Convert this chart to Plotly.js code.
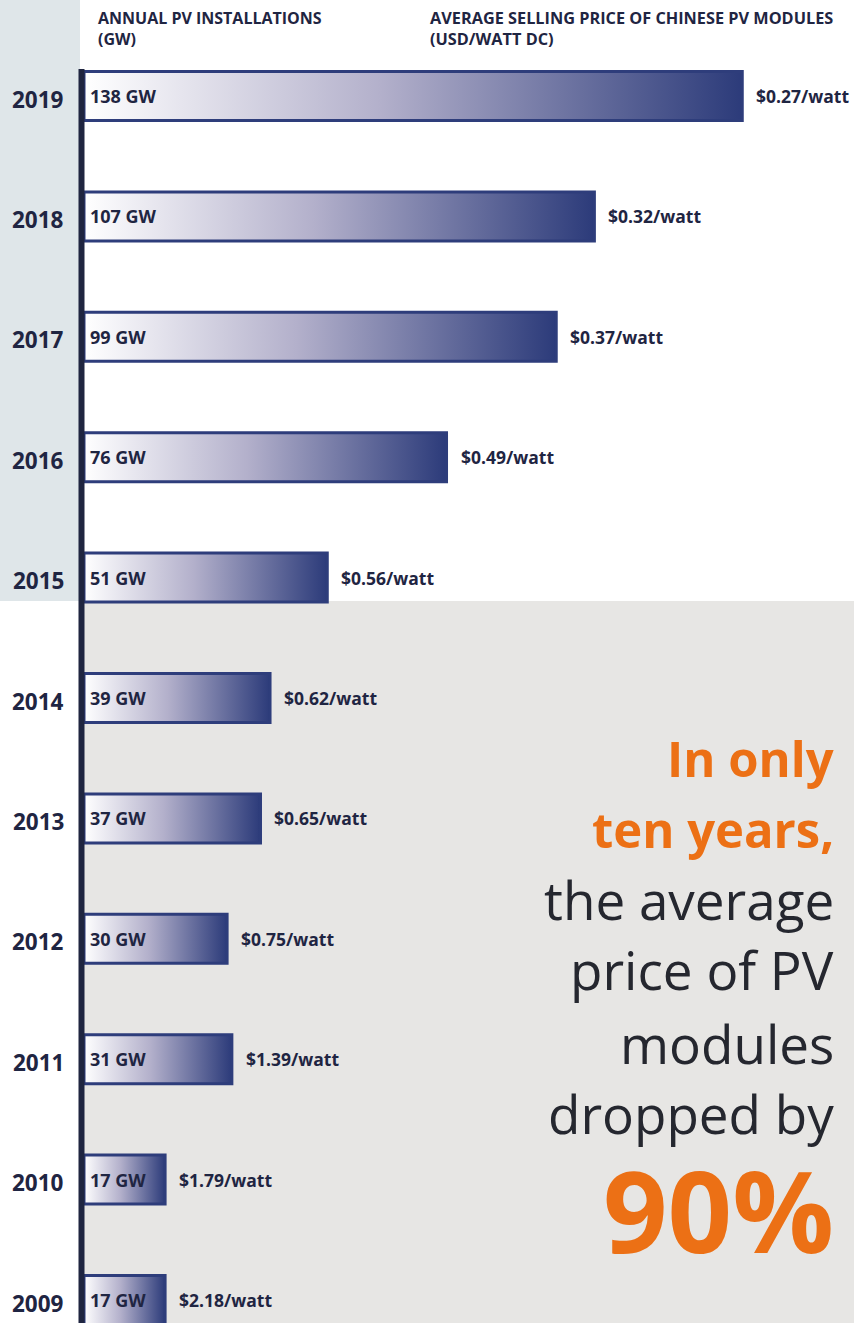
<!DOCTYPE html>
<html><head><meta charset="utf-8">
<script src="https://cdn.plot.ly/plotly-3.0.1.min.js"></script>
<style>html,body{margin:0;padding:0;background:#fff;}#chart{width:854px;height:1323px;}</style>
</head><body><div id="chart"></div>
<script>
const years = [2019, 2018, 2017, 2016, 2015, 2014, 2013, 2012, 2011, 2010, 2009];
const installGW = [138, 107, 99, 76, 51, 39, 37, 30, 31, 17, 17];
const installLabels = ["138 GW","107 GW","99 GW","76 GW","51 GW","39 GW","37 GW","30 GW","31 GW","17 GW","17 GW"];
const priceLabels = ["$0.27/watt","$0.32/watt","$0.37/watt","$0.49/watt","$0.56/watt","$0.62/watt","$0.65/watt","$0.75/watt","$1.39/watt","$1.79/watt","$2.18/watt"];
const headerLeft = "ANNUAL PV INSTALLATIONS<br>(GW)";
const headerRight = "AVERAGE SELLING PRICE OF CHINESE PV MODULES<br>(USD/WATT DC)";
const calloutOrange = ["In only", "ten years,"];
const calloutDark = ["the average", "price of PV", "modules", "dropped by"];
const calloutBig = "90%";

const W = 854, H = 1323;
const NAVY = "#1f2542", BAR = "#2e3d7b", ORANGE = "#ec7015", DARK = "#25272f";
const FONT = "Open Sans, Noto Sans, sans-serif";
const pxPerGW = 4.77, zeroPx = 84;
const xRange = [-zeroPx / pxPerGW, (W - zeroPx) / pxPerGW];
const rowPx = 120.4, firstRowPx = 96;
const yRange = [years[0] - (H - firstRowPx) / rowPx, years[0] + firstRowPx / rowPx];
const half = 0.2035;

const traces = years.map((yr, i) => ({
  type: "scatter", mode: "lines",
  x: [0, installGW[i], installGW[i], 0, 0],
  y: [yr - half, yr - half, yr + half, yr + half, yr - half],
  fill: "toself",
  fillgradient: {type: "horizontal", colorscale: [[0, "#ffffff"], [0.45, "#b3b0cb"], [1, "#2c3b7a"]]},
  line: {color: BAR, width: 3},
  hoverinfo: "skip", showlegend: false
}));

const ann = [];
const py = p => 1 - p / H;
ann.push({xref:"paper", yref:"paper", x: 96/W, y: py(5), xanchor:"left", yanchor:"top", align:"left",
  text: headerLeft, showarrow:false, font:{family:FONT, size:16, color:NAVY, weight:700}});
ann.push({xref:"paper", yref:"paper", x: 428/W, y: py(5), xanchor:"left", yanchor:"top", align:"left",
  text: headerRight, showarrow:false, font:{family:FONT, size:16.3, color:NAVY, weight:700}});
years.forEach((yr, i) => {
  ann.push({xref:"paper", yref:"y", x: 38/W, y: yr, yshift: -3, xanchor:"center", yanchor:"middle",
    text: String(yr), showarrow:false, font:{family:FONT, size:22.5, color:NAVY, weight:700}});
  ann.push({xref:"x", yref:"y", x: 0, y: yr, xshift: 4, xanchor:"left", yanchor:"middle",
    text: installLabels[i], showarrow:false, font:{family:FONT, size:18, color:NAVY, weight:700}});
  ann.push({xref:"x", yref:"y", x: installGW[i], y: yr, xshift: 12, xanchor:"left", yanchor:"middle",
    text: priceLabels[i], showarrow:false, font:{family:FONT, size:17.5, color:NAVY, weight:700}});
});
const orangeY = [758, 829];
calloutOrange.forEach((t, i) => ann.push({xref:"paper", yref:"paper", x: 836/W, y: py(orangeY[i]),
  xanchor:"right", yanchor:"middle", text: t, showarrow:false,
  font:{family:FONT, size:49, color:ORANGE, weight:700}}));
const darkY = [899, 969, 1043, 1113];
calloutDark.forEach((t, i) => ann.push({xref:"paper", yref:"paper", x: 836/W, y: py(darkY[i]),
  xanchor:"right", yanchor:"middle", text: t, showarrow:false,
  font:{family:FONT, size:53, color:DARK, weight:400}}));
ann.push({xref:"paper", yref:"paper", x: 836/W, y: py(1209), xanchor:"right", yanchor:"middle",
  height: 112, valign: "middle",
  text: calloutBig, showarrow:false, font:{family:FONT, size:113, color:ORANGE, weight:700}});

const shapes = [
  {type:"rect", xref:"paper", yref:"paper", x0:0, x1:80/W, y0:py(601), y1:1, fillcolor:"#dfe6e9", line:{width:0}, layer:"below"},
  {type:"rect", xref:"paper", yref:"paper", x0:80/W, x1:1, y0:0, y1:py(601), fillcolor:"#e7e6e4", line:{width:0}, layer:"below"},
  {type:"line", xref:"paper", yref:"paper", x0:81.5/W, x1:81.5/W, y0:0, y1:py(69), line:{color:"#1f2540", width:6}, layer:"above"}
];

const layout = {
  width: W, height: H, margin: {l:0, r:0, t:0, b:0},
  paper_bgcolor: "#ffffff", plot_bgcolor: "rgba(0,0,0,0)",
  xaxis: {range: xRange, visible: false, fixedrange: true},
  yaxis: {range: yRange, visible: false, fixedrange: true},
  showlegend: false, annotations: ann, shapes: shapes, hovermode: false
};
Plotly.newPlot("chart", traces, layout, {displayModeBar: false, staticPlot: true});
</script></body></html>
